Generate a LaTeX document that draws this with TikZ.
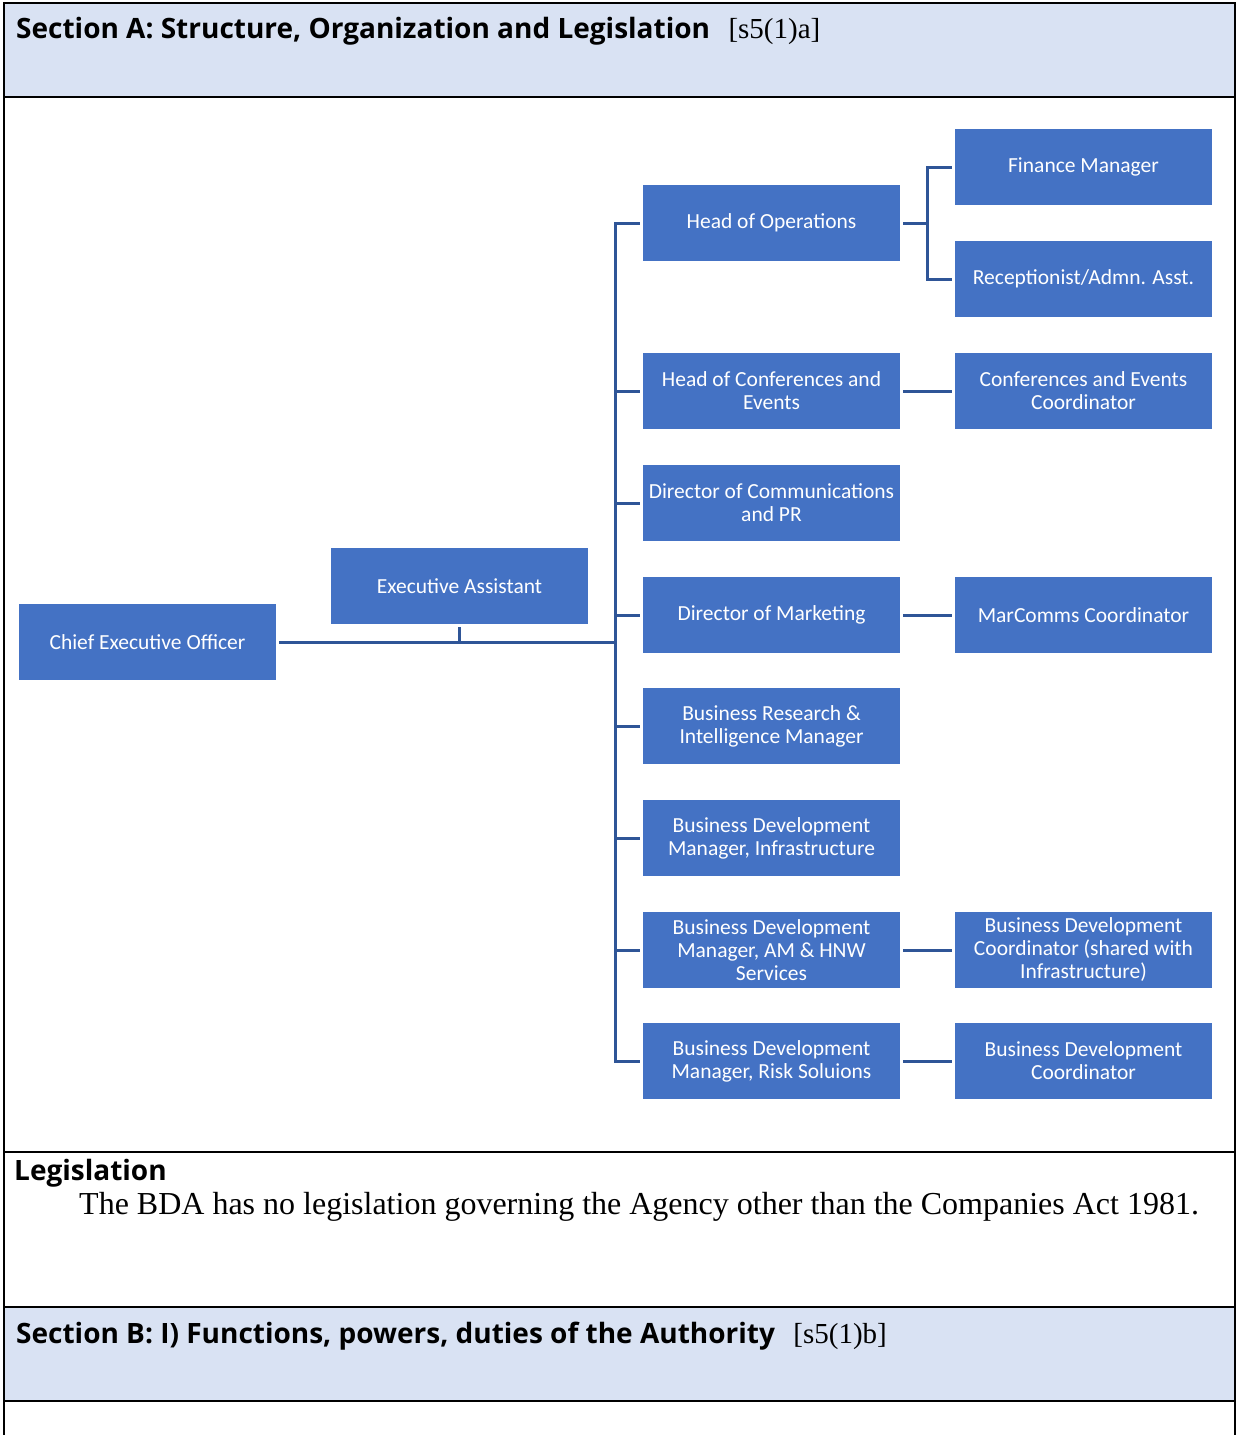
\documentclass[tikz,border=0pt]{standalone}
\usepackage{fontspec}
\setmainfont{Liberation Serif}
\newfontfamily\boxfont{Carlito}
\newfontfamily\headfont{Open Sans}
\usetikzlibrary{positioning}

\definecolor{boxblue}{HTML}{4472C4}
\definecolor{linkblue}{HTML}{2F5597}
\definecolor{bandblue}{HTML}{D9E2F3}

\tikzset{
  post/.style={fill=boxblue, minimum width=257pt, minimum height=76pt,
    inner sep=1pt, align=center, text=white,
    font=\boxfont\fontsize{21.5}{23}\selectfont},
  link/.style={draw=linkblue, line width=3pt},
  heading/.style={anchor=base west, inner sep=0pt,
    font=\headfont\bfseries\fontsize{28}{32}\selectfont},
  ref/.style={font=\rmfamily\mdseries\fontsize{29}{32}\selectfont},
  rule/.style={line width=2pt},
}

\begin{document}
\begin{tikzpicture}[x=1pt,y=-1pt,node distance=112pt,on grid]
		\useasboundingbox (0,0) rectangle (1236,1435);
		
		% --- Page frame ---
		\fill[bandblue] (4,3) rectangle (1235,97);
		\fill[bandblue] (4,1307) rectangle (1235,1401);
		\draw[rule] (4,1435) -- (4,3) -- (1235,3) -- (1235,1435);
		\foreach \y in {97,1152,1307,1401}
		\draw[rule] (4,\y) -- (1235,\y);
		
		% --- Headings ---
		\node[heading] (secA) at (16,38) {Section A: Structure, Organization and Legislation};
		\node[heading, ref] (refA) at ([xshift=18pt]secA.base east) {[s5(1)a]};
		\node[heading] (legis) at (14,1180) {Legislation};
		\node[anchor=base west, inner sep=0pt, font=\fontsize{32}{36}\selectfont] (legtext) at (79,1214) {The BDA has no legislation governing the Agency other than the Companies Act 1981.};
		\node[heading] (secB) at (16,1343) {Section B: I) Functions, powers, duties of the Authority};
		\node[heading, ref] (refB) at ([xshift=18pt]secB.base east) {[s5(1)b]};
		
		% --- Boxes ---
		\node[post] (ceo) at (147.5,642) {Chief Executive Officer};
		\node[post] (ea) at (459.5,586) {Executive Assistant};
		\node[post] (ops) at (771.5,223) {Head of Operations};
		\node[post] (conf) [below=168pt of ops] {Head of Conferences and\\Events};
		\node[post] (comms) [below=of conf] {Director of Communications\\and PR};
		\node[post] (mkt) [below=of comms] {Director of Marketing};
		\node[post] (bri) [below=111pt of mkt] {Business Research \&\\Intelligence Manager};
		\node[post] (bdi) [below=of bri] {Business Development\\Manager, Infrastructure};
		\node[post] (bdam) [below=of bdi] {Business Development\\Manager, AM \& HNW\\Services};
		\node[post] (risk) [below=111pt of bdam] {Business Development\\Manager, Risk Soluions};
		
		\node[post] (fin) at (1083.5,167) {Finance Manager};
		\node[post] (recep) [below=of fin] {Receptionist/Admn. Asst.};
		\node[post] (cec) [right=312pt of conf] {Conferences and Events\\Coordinator};
		\node[post] (mcc) [right=312pt of mkt] {MarComms Coordinator};
		\node[post] (bdcs) [right=312pt of bdam] {Business Development\\Coordinator (shared with\\Infrastructure)};
		\node[post] (bdc) [right=312pt of risk] {Business Development\\Coordinator};
		
		% --- Lines ---
		\coordinate (trunk) at (615,642);
		\coordinate (fork) at (927,223);
		
		\draw[link] ([xshift=3pt]ceo.east) -- (trunk);
		\draw[link] ([yshift=-3pt]ea.south) -- (ea.south |- trunk);
		\draw[link] ([xshift=-3pt]ops.west) -- (ops -| trunk) -- (risk -| trunk) -- ([xshift=-3pt]risk.west);
		\foreach \p in {conf,comms,mkt,bri,bdi,bdam}
		\draw[link] (\p -| trunk) -- ([xshift=-3pt]\p.west);
		
		\draw[link] ([xshift=3pt]ops.east) -- (fork);
		\draw[link] ([xshift=-3pt]fin.west) -- (fin -| fork) -- (recep -| fork) -- ([xshift=-3pt]recep.west);
		\foreach \a/\b in {conf/cec,mkt/mcc,bdam/bdcs,risk/bdc}
		\draw[link] ([xshift=3pt]\a.east) -- ([xshift=-3pt]\b.west);
	\end{tikzpicture}
\end{document}
